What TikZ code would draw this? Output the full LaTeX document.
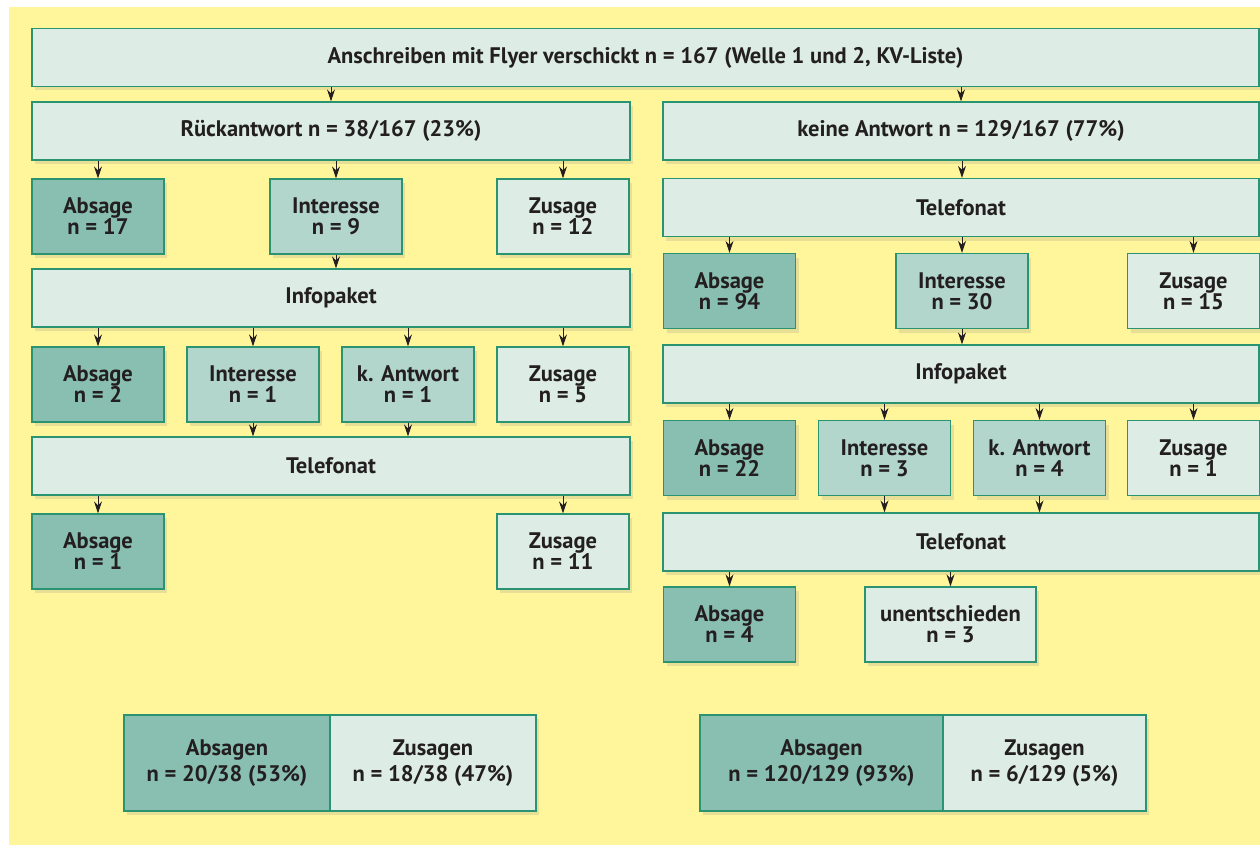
\documentclass[tikz,border=0pt]{standalone}
\usepackage{fontspec}
\setmainfont{PT Sans}
\usetikzlibrary{arrows.meta,shadows}

\definecolor{bgyellow}{HTML}{FFF59B}
\definecolor{boxline}{HTML}{2A9372}
\definecolor{lightfill}{HTML}{DDEDE6}
\definecolor{midfill}{HTML}{B2D6CB}
\definecolor{darkfill}{HTML}{89BFB0}
\definecolor{txt}{HTML}{231F20}

\tikzset{
  box/.style={draw=boxline, line width=1.3pt, align=center, inner sep=0pt,
              text=txt, font=\bfseries\fontsize{22.5}{21}\selectfont,
              drop shadow={shadow xshift=3pt, shadow yshift=-4pt, opacity=0.18}},
  wide/.style={box, fill=lightfill, minimum height=58pt},
  cell/.style={box, minimum width=132pt, minimum height=75pt},
  negcell/.style={cell, fill=darkfill},
  midcell/.style={cell, fill=midfill},
  poscell/.style={cell, fill=lightfill},
  sumbox/.style={box, minimum height=96pt},
  arr/.style={-{Stealth[length=12pt,width=8pt]}, line width=0.9pt, draw=txt}
}

\begin{document}
\begin{tikzpicture}[x=1pt, y=-1pt]
    \useasboundingbox (0,0) rectangle (1260,845);
    \fill [bgyellow] (9,7) rectangle (1260,845);

    % Kopf
    \node [wide, minimum width=1227pt] (top) at (645.5,57.5)
      {Anschreiben mit Flyer verschickt n = 167 (Welle 1 und 2, KV-Liste)};
    \node [wide, minimum width=598pt] (rueck) at (331,131) {Rückantwort n = 38/167 (23\%)};
    \node [wide, minimum width=596pt] (keine) at (961,131) {keine Antwort n = 129/167 (77\%)};

    % linke Seite
    \node [negcell] (l-1-1) at (98,216.5)  {Absage\\n = 17};
    \node [midcell] (l-1-2) at (336,216.5) {Interesse\\n = 9};
    \node [poscell] (l-1-3) at (563,216.5) {Zusage\\n = 12};
    \node [wide, minimum width=598pt] (l-info) at (331,298) {Infopaket};
    \node [negcell] (l-2-1) at (98,384.5)  {Absage\\n = 2};
    \node [midcell] (l-2-2) at (253,384.5) {Interesse\\n = 1};
    \node [midcell] (l-2-3) at (408,384.5) {k. Antwort\\n = 1};
    \node [poscell] (l-2-4) at (563,384.5) {Zusage\\n = 5};
    \node [wide, minimum width=598pt] (l-tel) at (331,466) {Telefonat};
    \node [negcell] (l-3-1) at (98,551.5)  {Absage\\n = 1};
    \node [poscell] (l-3-2) at (563,551.5) {Zusage\\n = 11};

    % rechte Seite
    \node [wide, minimum width=596pt] (r-tel1) at (961,207.5) {Telefonat};
    \node [negcell] (r-1-1) at (729.5,291)  {Absage\\n = 94};
    \node [midcell] (r-1-2) at (962,291)    {Interesse\\n = 30};
    \node [poscell] (r-1-3) at (1193.5,291) {Zusage\\n = 15};
    \node [wide, minimum width=596pt] (r-info) at (961,374) {Infopaket};
    \node [negcell] (r-2-1) at (729.5,458)  {Absage\\n = 22};
    \node [midcell] (r-2-2) at (884.5,458)  {Interesse\\n = 3};
    \node [midcell] (r-2-3) at (1039.5,458) {k. Antwort\\n = 4};
    \node [poscell] (r-2-4) at (1193.5,458) {Zusage\\n = 1};
    \node [wide, minimum width=596pt] (r-tel2) at (961,542) {Telefonat};
    \node [negcell] (r-3-1) at (729.5,624.5) {Absage\\n = 4};
    \node [poscell, minimum width=171pt] (r-3-2) at (950.5,624.5) {unentschieden\\n = 3};

    % Summen
    \node [sumbox, fill=darkfill, minimum width=206pt] (l-neg) at (227,763)
      {Absagen\\[5pt]n = 20/38 (53\%)};
    \node [sumbox, fill=lightfill, minimum width=206pt] (l-pos) at (433,763)
      {Zusagen\\[5pt]n = 18/38 (47\%)};
    \node [sumbox, fill=darkfill, minimum width=243pt] (r-neg) at (821.5,763)
      {Absagen\\[5pt]n = 120/129 (93\%)};
    \node [sumbox, fill=lightfill, minimum width=203pt] (r-pos) at (1044.5,763)
      {Zusagen\\[5pt]n = 6/129 (5\%)};

    % Pfeile
    \draw [arr] (top.south -| rueck.north) -- (rueck.north);
    \draw [arr] (top.south -| keine.north) -- (keine.north);
    \draw [arr] (rueck.south -| l-1-1.north) -- (l-1-1.north);
    \draw [arr] (rueck.south -| l-1-2.north) -- (l-1-2.north);
    \draw [arr] (rueck.south -| l-1-3.north) -- (l-1-3.north);
    \draw [arr] (l-1-2.south) -- (l-1-2.south |- l-info.north);
    \draw [arr] (l-info.south -| l-2-1.north) -- (l-2-1.north);
    \draw [arr] (l-info.south -| l-2-2.north) -- (l-2-2.north);
    \draw [arr] (l-info.south -| l-2-3.north) -- (l-2-3.north);
    \draw [arr] (l-info.south -| l-2-4.north) -- (l-2-4.north);
    \draw [arr] (l-2-2.south) -- (l-2-2.south |- l-tel.north);
    \draw [arr] (l-2-3.south) -- (l-2-3.south |- l-tel.north);
    \draw [arr] (l-tel.south -| l-3-1.north) -- (l-3-1.north);
    \draw [arr] (l-tel.south -| l-3-2.north) -- (l-3-2.north);

    \draw [arr] (keine.south -| r-1-2.north) -- (r-1-2.north |- r-tel1.north);
    \draw [arr] (r-tel1.south -| r-1-1.north) -- (r-1-1.north);
    \draw [arr] (r-tel1.south -| r-1-2.north) -- (r-1-2.north);
    \draw [arr] (r-tel1.south -| r-1-3.north) -- (r-1-3.north);
    \draw [arr] (r-1-2.south) -- (r-1-2.south |- r-info.north);
    \draw [arr] (r-info.south -| r-2-1.north) -- (r-2-1.north);
    \draw [arr] (r-info.south -| r-2-2.north) -- (r-2-2.north);
    \draw [arr] (r-info.south -| r-2-3.north) -- (r-2-3.north);
    \draw [arr] (r-info.south -| r-2-4.north) -- (r-2-4.north);
    \draw [arr] (r-2-2.south) -- (r-2-2.south |- r-tel2.north);
    \draw [arr] (r-2-3.south) -- (r-2-3.south |- r-tel2.north);
    \draw [arr] (r-tel2.south -| r-3-1.north) -- (r-3-1.north);
    \draw [arr] (r-tel2.south -| r-3-2.north) -- (r-3-2.north);
  \end{tikzpicture}
\end{document}
